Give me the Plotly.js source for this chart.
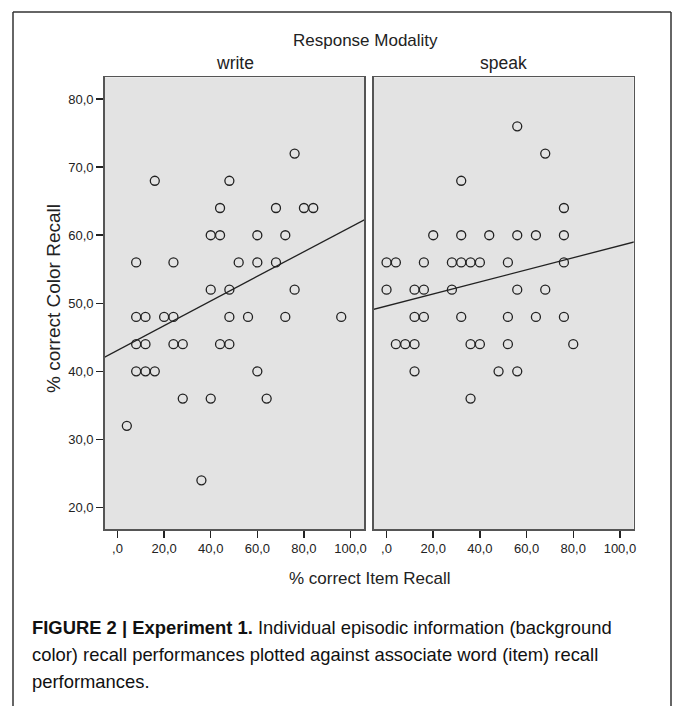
<!DOCTYPE html>
<html>
<head>
<meta charset="utf-8">
<script src="https://cdn.plot.ly/plotly-3.0.1.min.js"></script>
<style>
html,body{margin:0;padding:0;background:#fff;}
#chart{width:673px;height:706px;}
</style>
</head>
<body>
<div id="chart"></div>
<script>
// ---- data ----
var panels = ["write", "speak"];
var writeItem  = [76,16,48,44,68,80,84,40,44,60,72,8,24,52,60,68,40,48,76,8,12,20,24,48,56,72,96,8,12,24,28,44,48,8,12,16,60,28,40,64,4,36];
var writeColor = [72,68,68,64,64,64,64,60,60,60,60,56,56,56,56,56,52,52,52,48,48,48,48,48,48,48,48,44,44,44,44,44,44,40,40,40,40,36,36,36,32,24];
var speakItem  = [56,68,32,76,20,32,44,56,64,76,0,4,16,28,32,36,40,52,76,0,12,16,28,56,68,12,16,32,52,64,76,4,8,12,36,40,52,80,12,48,56,36];
var speakColor = [76,72,68,64,60,60,60,60,60,60,56,56,56,56,56,56,56,56,56,52,52,52,52,52,52,48,48,48,48,48,48,44,44,44,44,44,44,44,40,40,40,36];
// fit lines [intercept, slope]
var fitWrite = [43.1, 0.181];
var fitSpeak = [49.6, 0.0887];
var xTickVals = [0, 20, 40, 60, 80, 100];
var xTickText = [",0", "20,0", "40,0", "60,0", "80,0", "100,0"];
var yTickVals = [20, 30, 40, 50, 60, 70, 80];
var yTickText = ["20,0", "30,0", "40,0", "50,0", "60,0", "70,0", "80,0"];

// ---- layout helpers ----
var W = 673, H = 706;
function px(x){ return x / W; }
function py(y){ return 1 - y / H; }
var ink = "#222222";
var font = "Liberation Sans, Arial, sans-serif";

function fitLine(fit){
  var xs = [-10, 115];
  return {x: xs, y: xs.map(function(v){ return fit[0] + fit[1]*v; })};
}

var marker = {symbol: "circle-open", size: 9, color: ink, line: {width: 1.3, color: ink}};
var lw = fitLine(fitWrite), ls = fitLine(fitSpeak);
var traces = [
  {x: writeItem, y: writeColor, type: "scatter", mode: "markers", marker: marker, xaxis: "x", yaxis: "y", hoverinfo: "none"},
  {x: lw.x, y: lw.y, type: "scatter", mode: "lines", line: {color: ink, width: 1.3}, xaxis: "x", yaxis: "y", hoverinfo: "none"},
  {x: speakItem, y: speakColor, type: "scatter", mode: "markers", marker: marker, xaxis: "x2", yaxis: "y2", hoverinfo: "none"},
  {x: ls.x, y: ls.y, type: "scatter", mode: "lines", line: {color: ink, width: 1.3}, xaxis: "x2", yaxis: "y2", hoverinfo: "none"}
];

var yDom = [py(529.3), py(77.3)];
var xBase = {
  range: [-5.5, 105.9], tickvals: xTickVals, ticktext: xTickText, ticks: "outside", ticklen: 7,
  tickwidth: 1.5, tickcolor: ink, showgrid: false, zeroline: false, showline: true, mirror: true,
  linecolor: "#555555", linewidth: 1.5, tickfont: {family: font, size: 13, color: ink}, fixedrange: true
};
var yBase = {
  range: [16.8, 83.2], domain: yDom, tickvals: yTickVals, ticktext: yTickText, ticks: "outside", ticklen: 7,
  tickwidth: 1.5, tickcolor: ink, showgrid: false, zeroline: false, showline: true, mirror: true,
  linecolor: "#555555", linewidth: 1.5, tickfont: {family: font, size: 13, color: ink}, fixedrange: true
};

var layout = {
  width: W, height: H,
  margin: {l: 0, r: 0, t: 0, b: 0, pad: 0},
  paper_bgcolor: "#ffffff",
  plot_bgcolor: "#e3e3e3",
  showlegend: false,
  font: {family: font, color: ink},
  xaxis: Object.assign({}, xBase, {domain: [px(104.7), px(364.3)], anchor: "y"}),
  yaxis: Object.assign({}, yBase, {anchor: "x"}),
  xaxis2: Object.assign({}, xBase, {domain: [px(373.7), px(633.7)], anchor: "y2"}),
  yaxis2: Object.assign({}, yBase, {anchor: "x2", showticklabels: false, ticks: ""}),
  shapes: [
    {type: "line", xref: "paper", yref: "paper", x0: px(13), x1: px(13), y0: 0, y1: py(12), line: {color: "#333", width: 1.5}},
    {type: "line", xref: "paper", yref: "paper", x0: px(13), x1: px(671), y0: py(12), y1: py(12), line: {color: "#333", width: 1.5}},
    {type: "line", xref: "paper", yref: "paper", x0: px(671), x1: px(671), y0: py(12), y1: 0, line: {color: "#333", width: 1.5}}
  ],
  annotations: [
    {text: "Response Modality", xref: "paper", yref: "paper", x: px(365), y: py(41), xanchor: "center", yanchor: "middle", showarrow: false, font: {family: font, size: 17, color: ink}},
    {text: panels[0], xref: "paper", yref: "paper", x: px(234.5), y: py(63), xanchor: "center", yanchor: "middle", showarrow: false, font: {family: font, size: 17.5, color: ink}},
    {text: panels[1], xref: "paper", yref: "paper", x: px(503.7), y: py(63), xanchor: "center", yanchor: "middle", showarrow: false, font: {family: font, size: 17.5, color: ink}},
    {text: "% correct Color Recall", xref: "paper", yref: "paper", x: px(53), y: py(299), xanchor: "center", yanchor: "middle", textangle: -90, showarrow: false, font: {family: font, size: 19, color: ink}},
    {text: "% correct Item Recall", xref: "paper", yref: "paper", x: px(370), y: py(578), xanchor: "center", yanchor: "middle", showarrow: false, font: {family: font, size: 17, color: ink}},
    {text: "<b>FIGURE 2 | Experiment 1.</b> Individual episodic information (background", xref: "paper", yref: "paper", x: px(30), y: py(627), xanchor: "left", yanchor: "middle", showarrow: false, font: {family: font, size: 18.4, color: "#111"}},
    {text: "color) recall performances plotted against associate word (item) recall", xref: "paper", yref: "paper", x: px(30), y: py(654), xanchor: "left", yanchor: "middle", showarrow: false, font: {family: font, size: 18.4, color: "#111"}},
    {text: "performances.", xref: "paper", yref: "paper", x: px(30), y: py(681), xanchor: "left", yanchor: "middle", showarrow: false, font: {family: font, size: 18.4, color: "#111"}}
  ]
};

Plotly.newPlot("chart", traces, layout, {staticPlot: true, displayModeBar: false});
</script>
</body>
</html>
